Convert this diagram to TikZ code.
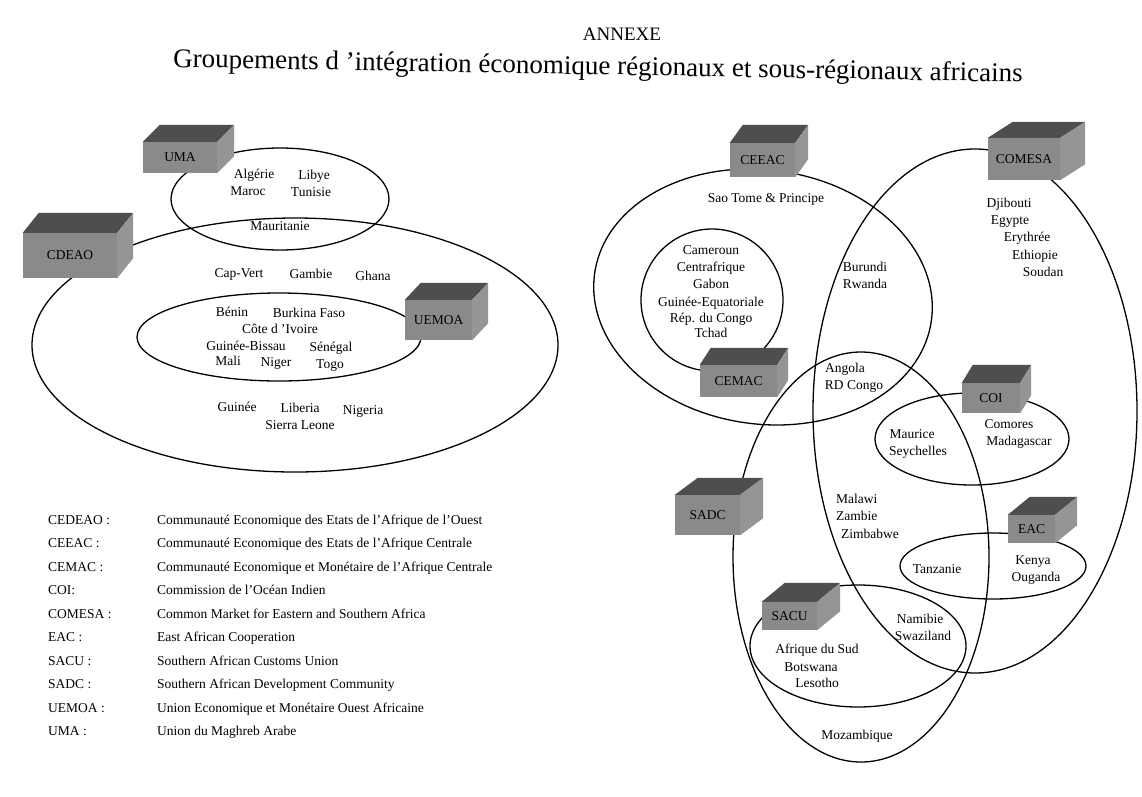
\documentclass[tikz,border=0pt]{standalone}
\usepackage{fontspec}
\setmainfont{Liberation Serif}
\definecolor{boxf}{HTML}{8A8A8A}
\definecolor{boxt}{HTML}{4E4E4E}
\definecolor{boxs}{HTML}{959595}
\newcommand\cubebox[8]{%
  \node[cube, minimum width={#4-#2}, minimum height={#5-#3}] (#1) at ({(#2+#4)/2},{(#3+#5)/2}) {#8};
  \fill[boxt] (#1.north west) -- ++(#6,-#7) -- ([shift={(#6,-#7)}]#1.north east) -- (#1.north east) -- cycle;
  \fill[boxs] (#1.north east) -- ++(#6,-#7) -- ([shift={(#6,-#7)}]#1.south east) -- (#1.south east) -- cycle;
}
\begin{document}
\begin{tikzpicture}[x=1pt,y=-1pt,
  lbl/.style={inner sep=0pt, text height=9.5pt, text depth=3pt, font=\fontsize{13.5}{15}\selectfont},
  leg/.style={inner sep=0pt, anchor=west, text height=9.5pt, text depth=3pt, font=\fontsize{13.5}{15}\selectfont},
  ring/.style={draw=black, line width=1.3pt},
  cube/.style={fill=boxf, inner sep=0pt, font=\fontsize{13.5}{15}\selectfont}]
\fill[white] (0,0) rectangle (1142,796);
\useasboundingbox (0,0) rectangle (1142,796);

% titles
\node[font=\fontsize{19}{21}\selectfont] (annexe) at (622,34) {ANNEXE};
\node[font=\fontsize{27}{30}\selectfont, rotate=-1] (title) at (598,68) {Groupements d 'intégration économique régionaux et sous-régionaux africains};

% ellipses, left cluster
\draw[ring] (280,199) ellipse [x radius=109pt, y radius=51pt];
\draw[ring] (295,345) ellipse [x radius=263pt, y radius=127pt];
\draw[ring] (279,337) ellipse [x radius=142pt, y radius=44pt];

% ellipses, right cluster
\draw[ring, rotate around={-8:(763,297)}] (763,297) ellipse [x radius=170pt, y radius=127pt];
\draw[ring] (712,300) ellipse [x radius=71pt, y radius=71pt];
\draw[ring] (975,411) ellipse [x radius=162pt, y radius=262pt];
\draw[ring] (861,557) ellipse [x radius=128pt, y radius=205pt];
\draw[ring] (972,439) ellipse [x radius=97pt, y radius=46pt];
\draw[ring] (993,566) ellipse [x radius=93pt, y radius=33pt];
\draw[ring] (858,646) ellipse [x radius=108pt, y radius=61pt];

% boxes
\cubebox{uma}{143}{142}{217}{173}{17}{17}{UMA}
\cubebox{cdeao}{23}{233}{117}{278}{16}{20}{CDEAO}
\cubebox{uemoa}{405}{300}{472}{340}{16}{17}{UEMOA}
\cubebox{ceeac}{730}{143}{795}{177}{13}{18}{CEEAC}
\cubebox{comesa}{988}{138}{1060}{180}{25}{16}{COMESA}
\cubebox{cemac}{700}{365}{777}{397}{11}{17}{CEMAC}
\cubebox{coi}{962}{383}{1020}{413}{11}{18}{COI}
\cubebox{sadc}{675}{495}{740}{535}{23}{17}{SADC}
\cubebox{eac}{1008}{515}{1055}{543}{22}{18}{EAC}
\cubebox{sacu}{762}{602}{817}{630}{23}{19}{SACU}

% left cluster countries
\node[lbl] (alg) at (254,175) {Algérie};
\node[lbl] (lib) at (314,176) {Libye};
\node[lbl] (mar) at (248,192) {Maroc};
\node[lbl] (tun) at (311,193) {Tunisie};
\node[lbl] (mau) at (280,227) {Mauritanie};
\node[lbl] (cap) at (239,274) {Cap-Vert};
\node[lbl] (gam) at (311,275) {Gambie};
\node[lbl] (gha) at (373,277) {Ghana};
\node[lbl] (ben) at (232,313) {Bénin};
\node[lbl] (bur) at (309,314) {Burkina Faso};
\node[lbl] (civ) at (280,330) {Côte d 'Ivoire};
\node[lbl] (gbi) at (246,347) {Guinée-Bissau};
\node[lbl] (sen) at (331,348) {Sénégal};
\node[lbl] (mli) at (228,362) {Mali};
\node[lbl] (ner) at (276,363) {Niger};
\node[lbl] (tgo) at (330,365) {Togo};
\node[lbl] (gui) at (237,408) {Guinée};
\node[lbl] (lbr) at (300,409) {Liberia};
\node[lbl] (nga) at (363,411) {Nigeria};
\node[lbl] (sle) at (300,426) {Sierra Leone};

% right cluster countries
\node[lbl] (stp) at (766,199) {Sao Tome \& Principe};
\node[lbl] (cmr) at (711,251) {Cameroun};
\node[lbl] (caf) at (711,268) {Centrafrique};
\node[lbl] (gab) at (711,285) {Gabon};
\node[lbl] (gnq) at (711,303) {Guinée-Equatoriale};
\node[lbl] (cog) at (711,319) {Rép. du Congo};
\node[lbl] (tcd) at (711,334) {Tchad};
\node[lbl] (bdi) at (865,268) {Burundi};
\node[lbl] (rwa) at (865,285) {Rwanda};
\node[lbl] (dji) at (1009,204) {Djibouti};
\node[lbl] (egy) at (1010,221) {Egypte};
\node[lbl] (eri) at (1027,238) {Erythrée};
\node[lbl] (eth) at (1035,256) {Ethiopie};
\node[lbl] (sdn) at (1043,273) {Soudan};
\node[lbl] (ago) at (845,369) {Angola};
\node[lbl] (cod) at (854,386) {RD Congo};
\node[lbl] (mus) at (912,435) {Maurice};
\node[lbl] (syc) at (918,452) {Seychelles};
\node[lbl] (com) at (1009,425) {Comores};
\node[lbl] (mdg) at (1019,442) {Madagascar};
\node[lbl, anchor=west] (mwi) at (836,500) {Malawi};
\node[lbl, anchor=west] (zmb) at (836,517) {Zambie};
\node[lbl, anchor=west] (zwe) at (841,535) {Zimbabwe};
\node[lbl] (tza) at (937,570) {Tanzanie};
\node[lbl] (ken) at (1033,561) {Kenya};
\node[lbl] (uga) at (1036,578) {Ouganda};
\node[lbl] (nam) at (920,620) {Namibie};
\node[lbl] (swz) at (923,637) {Swaziland};
\node[lbl] (zaf) at (817,650) {Afrique du Sud};
\node[lbl] (bwa) at (811,668) {Botswana};
\node[lbl] (lso) at (817,684) {Lesotho};
\node[lbl] (moz) at (857,736) {Mozambique};

% legend
\node[leg] (k1) at (48,521) {CEDEAO :};
\node[leg] (k2) at (48,544.5) {CEEAC :};
\node[leg] (k3) at (48,568) {CEMAC :};
\node[leg] (k4) at (48,591.5) {COI:};
\node[leg] (k5) at (48,615) {COMESA :};
\node[leg] (k6) at (48,638.5) {EAC :};
\node[leg] (k7) at (48,662) {SACU :};
\node[leg] (k8) at (48,685.5) {SADC :};
\node[leg] (k9) at (48,709) {UEMOA :};
\node[leg] (k10) at (48,732.5) {UMA :};
\node[leg] (d1) at (157,521) {Communauté Economique des Etats de l’Afrique de l’Ouest};
\node[leg] (d2) at (157,544.5) {Communauté Economique des Etats de l’Afrique Centrale};
\node[leg] (d3) at (157,568) {Communauté Economique et Monétaire de l’Afrique Centrale};
\node[leg] (d4) at (157,591.5) {Commission de l’Océan Indien};
\node[leg] (d5) at (157,615) {Common Market for Eastern and Southern Africa};
\node[leg] (d6) at (157,638.5) {East African Cooperation};
\node[leg] (d7) at (157,662) {Southern African Customs Union};
\node[leg] (d8) at (157,685.5) {Southern African Development Community};
\node[leg] (d9) at (157,709) {Union Economique et Monétaire Ouest Africaine};
\node[leg] (d10) at (157,732.5) {Union du Maghreb Arabe};
\end{tikzpicture}
\end{document}
